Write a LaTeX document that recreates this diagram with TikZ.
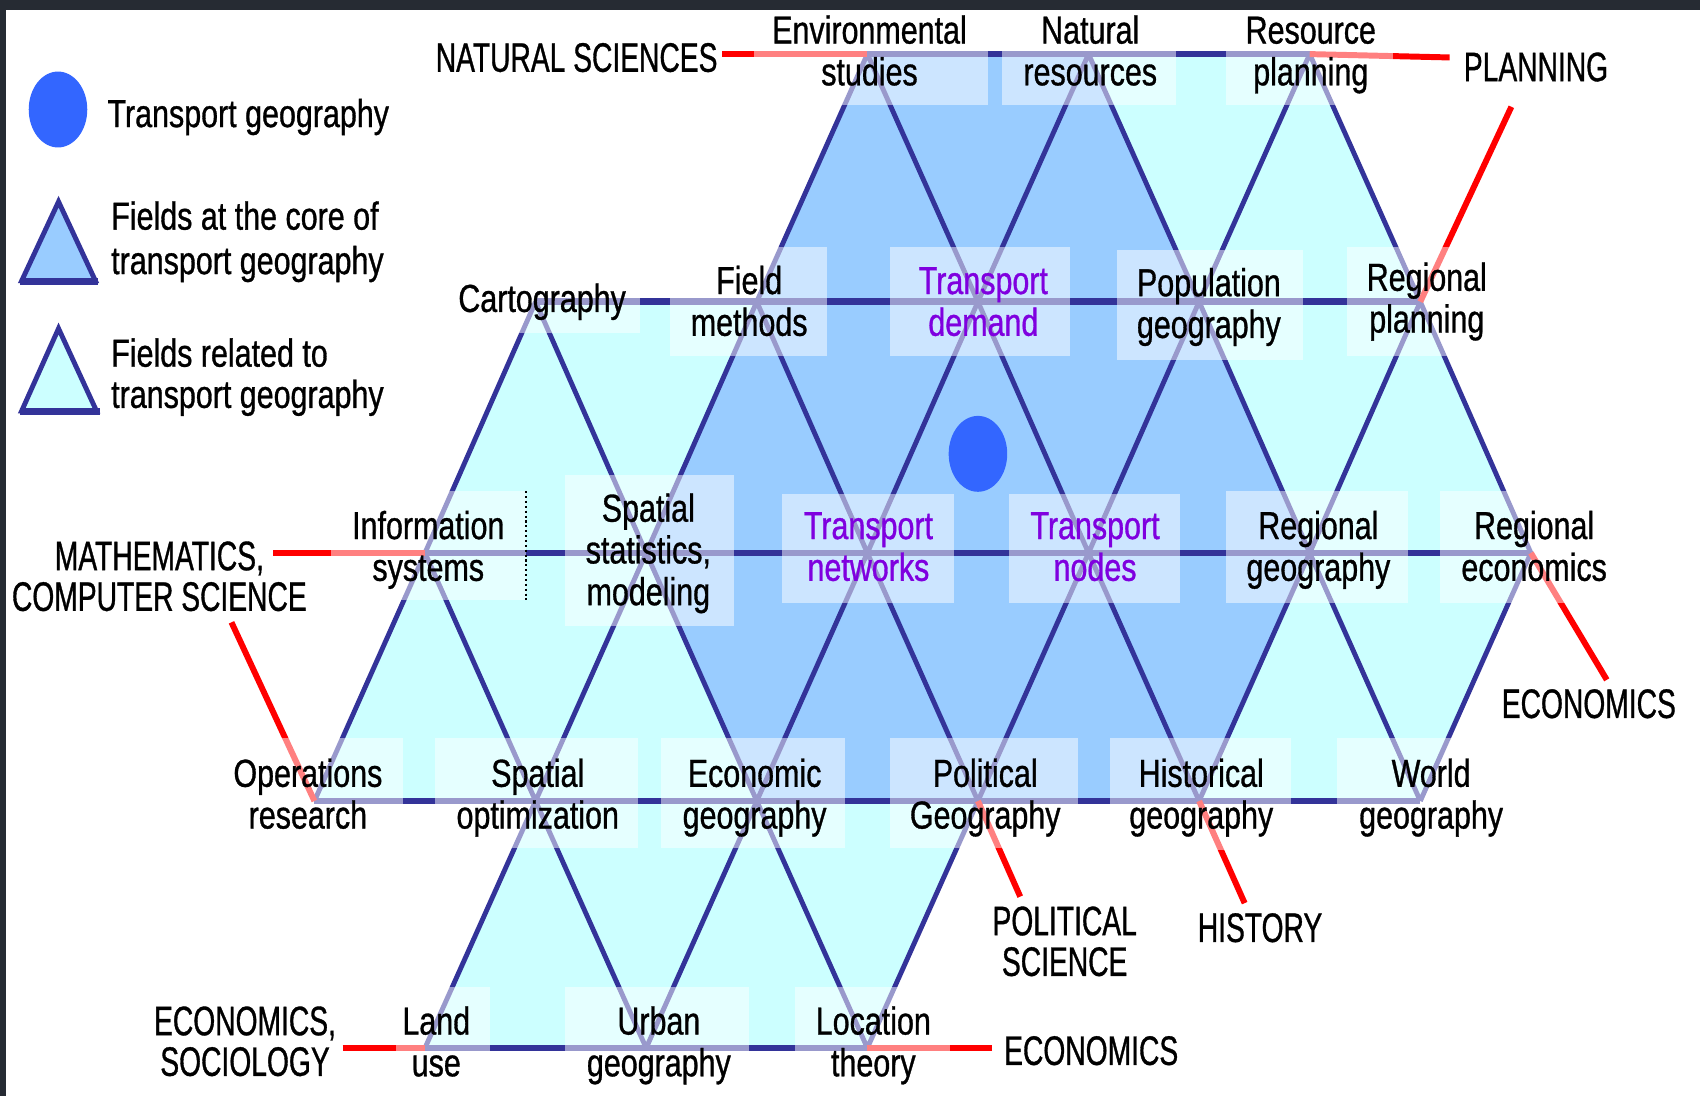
\documentclass[tikz,border=0pt]{standalone}
\usepackage{fontspec}
\newfontfamily\labff{Liberation Sans}[FakeStretch=0.78,FakeBold=0.8]
\newfontfamily\capff{Liberation Sans}[FakeStretch=0.685,FakeBold=0.8]
\usetikzlibrary{shapes.geometric}
\definecolor{gnavy}{HTML}{333399}
\definecolor{gcore}{HTML}{99CCFF}
\definecolor{gcyan}{HTML}{CCFFFF}
\definecolor{gred}{HTML}{FF0000}
\definecolor{gpurple}{HTML}{7F00DF}
\definecolor{gdot}{HTML}{3366FF}
\definecolor{gframe}{HTML}{262B33}
\newcommand{\mys}{\rule{0pt}{27pt}}
\newcommand{\mysc}{\rule{0pt}{28pt}}
\begin{document}
\begin{tikzpicture}[x=1pt,y=-1pt,
  edge/.style={draw=gnavy,line width=4.5pt},
  hedge/.style={draw=gnavy,line width=6pt},
  redl/.style={draw=gred,line width=5.5pt},
  lbox/.style={fill=white,fill opacity=0.5},
  lab/.style={font=\labff\fontsize{36}{38.5}\selectfont,align=center,inner sep=0pt,anchor=north},
  purp/.style={text=gpurple},
  capl/.style={font=\capff\fontsize{38}{37.5}\selectfont,align=center,inner sep=0pt,anchor=north},
  bluedot/.style={ellipse,fill=gdot,inner sep=0pt,minimum width=54pt,minimum height=70pt}]
\useasboundingbox (0,0) rectangle (1568,1011);
\fill[white] (0,0) rectangle (1568,1011);
\fill[gframe] (0,0) rectangle (1568,9);
\fill[gframe] (0,0) rectangle (5.5,1011);

% grid vertices
\coordinate (a2) at (800,49.9);  \coordinate (a3) at (1004,49.9); \coordinate (a4) at (1208,49.9);
\coordinate (b1) at (494,278.3); \coordinate (b2) at (698,278.3); \coordinate (b3) at (902,278.3);
\coordinate (b4) at (1106,278.3);\coordinate (b5) at (1310,278.3);
\coordinate (c0) at (392,510);   \coordinate (c1) at (596,510);   \coordinate (c2) at (800,510);
\coordinate (c3) at (1004,510);  \coordinate (c4) at (1208,510);  \coordinate (c5) at (1412,510);
\coordinate (d0) at (290,738.8); \coordinate (d1) at (494,738.8); \coordinate (d2) at (698,738.8);
\coordinate (d3) at (902,738.8); \coordinate (d4) at (1106,738.8);\coordinate (d5) at (1310,738.8);
\coordinate (e0) at (392,966.6); \coordinate (e1) at (596,966.6); \coordinate (e2) at (800,966.6);

% fills
\fill[gcyan] (b1) -- (b2) -- (c1) -- (d2) -- (d3) -- (e2) -- (e0) -- (d1) -- (d0) -- (c0) -- cycle;
\fill[gcyan] (a3) -- (a4) -- (b5) -- (c5) -- (d5) -- (d4) -- (c4) -- (b4) -- cycle;
\fill[gcore] (a2) -- (a3) -- (b4) -- (c4) -- (d4) -- (d2) -- (c1) -- (b2) -- cycle;

% triangle edges
\draw[edge] (a2)--(b2) (a2)--(b3) (a3)--(b3) (a3)--(b4) (a4)--(b4) (a4)--(b5);
\draw[edge] (b1)--(c0) (b1)--(c1) (b2)--(c1) (b2)--(c2) (b3)--(c2) (b3)--(c3)
            (b4)--(c3) (b4)--(c4) (b5)--(c4) (b5)--(c5);
\draw[edge] (c0)--(d0) (c0)--(d1) (c1)--(d1) (c1)--(d2) (c2)--(d2) (c2)--(d3)
            (c3)--(d3) (c3)--(d4) (c4)--(d4) (c4)--(d5) (c5)--(d5);
\draw[edge] (d1)--(e0) (d1)--(e1) (d2)--(e1) (d2)--(e2) (d3)--(e2);
\draw[hedge] (a2)--(a4) (b1)--(b5) (c0)--(c5) (d0)--(d5) (e0)--(e2);

% red connector ends
\coordinate (nsE) at (666,49.9);
\coordinate (plW) at (1337,53);
\coordinate (plS) at (1394,98.5);
\coordinate (maE) at (252,510);
\coordinate (csS) at (213.5,574);
\coordinate (ecN) at (1482,627);
\coordinate (psN) at (941,827);
\coordinate (hiN) at (1148,833);
\coordinate (esE) at (316,966.6);
\coordinate (ebW) at (915,966.6);
\draw[redl] (nsE) -- (a2);
\draw[redl] (plW) -- (a4);
\draw[redl] (plS) -- (b5);
\draw[redl] (maE) -- (c0);
\draw[redl] (csS) -- (d0);
\draw[redl] (ecN) -- (c5);
\draw[redl] (psN) -- (d3);
\draw[redl] (hiN) -- (d4);
\draw[redl] (esE) -- (e0);
\draw[redl] (ebW) -- (e2);

% label boxes
\fill[lbox] (695,10) rectangle (911,97);
\fill[lbox] (924,10) rectangle (1085,97);
\fill[lbox] (1131,10) rectangle (1285,97);
\fill[lbox] (420,250) rectangle (590,307);
\fill[lbox] (618,228) rectangle (763,328);
\fill[lbox] (821,228) rectangle (987,328);
\fill[lbox] (1030,231) rectangle (1202,332);
\fill[lbox] (1242,228) rectangle (1390,328);
\fill[lbox] (305,453) rectangle (485,553);
\fill[lbox] (521,438) rectangle (677,577);
\fill[lbox] (721,456) rectangle (880,556);
\fill[lbox] (931,456) rectangle (1088,556);
\fill[lbox] (1131,453) rectangle (1299,556);
\fill[lbox] (1328,453) rectangle (1500,556);
\fill[lbox] (205,681) rectangle (372,782);
\fill[lbox] (401,681) rectangle (588,782);
\fill[lbox] (610,681) rectangle (779,782);
\fill[lbox] (821,681) rectangle (994,782);
\fill[lbox] (1024,681) rectangle (1191,784);
\fill[lbox] (1233,681) rectangle (1400,782);
\fill[lbox] (365,910) rectangle (452,1011);
\fill[lbox] (521,910) rectangle (691,1011);
\fill[lbox] (733,910) rectangle (876,1011);
\draw[black,line width=1.5pt,dash pattern=on 2pt off 2.5pt] (485,453) -- (485,553);

% field labels
\node[lab] (env) at (802,13) {\mys Environmental\\studies};
\node[lab] (nat) at (1005.6,13) {\mys Natural\\resources};
\node[lab] (res) at (1209,13) {\mys Resource\\planning};
\node[lab] (carto) at (500,260.5) {\mys Cartography};
\node[lab] (field) at (691,244) {\mys Field\\methods};
\node[lab,purp] (tdem) at (907,244) {\mys Transport\\demand};
\node[lab] (popg) at (1115,246) {\mys Population\\geography};
\node[lab] (rplan) at (1316,241) {\mys Regional\\planning};
\node[lab] (info) at (395,470) {\mys Information\\systems};
\node[lab] (sstat) at (598,454) {\mys Spatial\\statistics,\\modeling};
\node[lab,purp] (tnet) at (801,470) {\mys Transport\\networks};
\node[lab,purp] (tnod) at (1010,470) {\mys Transport\\nodes};
\node[lab] (rgeo) at (1216,470) {\mys Regional\\geography};
\node[lab] (recon) at (1415,470) {\mys Regional\\economics};
\node[lab] (ops) at (284,698.5) {\mys Operations\\research};
\node[lab] (sopt) at (496,698.5) {\mys Spatial\\optimization};
\node[lab] (egeo) at (696,698.5) {\mys Economic\\geography};
\node[lab] (pgeo) at (908.7,698.5) {\mys Political\\Geography};
\node[lab] (hgeo) at (1108,698.5) {\mys Historical\\geography};
\node[lab] (wgeo) at (1320,698.5) {\mys World\\geography};
\node[lab] (land) at (402.4,927) {\mys Land\\use};
\node[lab] (urban) at (607.7,927) {\mys Urban\\geography};
\node[lab] (loc) at (805.5,927) {\mys Location\\theory};

% discipline labels
\node[capl,anchor=north east] (natsci) at (662,38) {\mysc NATURAL SCIENCES};
\node[capl,anchor=north west] (plan) at (1350,46.7) {\mysc PLANNING};
\node[capl] (math) at (147,497.7) {\mysc MATHEMATICS,\\COMPUTER SCIENCE};
\node[capl,anchor=north west] (econA) at (1385,634) {\mysc ECONOMICS};
\node[capl] (polsci) at (982,834.4) {\mysc POLITICAL\\SCIENCE};
\node[capl,anchor=north west] (hist) at (1104.6,840.6) {\mysc HISTORY};
\node[capl] (ecsoc) at (226,926.6) {\mysc ECONOMICS,\\SOCIOLOGY};
\node[capl,anchor=north west] (econB) at (926,954) {\mysc ECONOMICS};

% central dot
\node[bluedot] (tgdot) at (902,418.6) {};

% legend
\node[bluedot] (ldot) at (53.5,101) {};
\node[lab,align=left,anchor=north west] (lg1) at (99,90) {\mys Transport geography};
\filldraw[fill=gcore,draw=gnavy,line width=4.5pt] (54,186) -- (88,259) -- (20,259) -- cycle;
\draw[gnavy,line width=6.5pt] (18,259.5) -- (90,259.5);
\filldraw[fill=gcyan,draw=gnavy,line width=4.5pt] (54,303) -- (89,379) -- (20,379) -- cycle;
\draw[gnavy,line width=6.5pt] (18,379.5) -- (92,379.5);
\node[lab,align=left,anchor=north west,font=\labff\fontsize{36}{41}\selectfont] (lg2) at (102.4,184.6) {\mys Fields at the core of\\transport geography};
\node[lab,align=left,anchor=north west,font=\labff\fontsize{36}{38}\selectfont] (lg3) at (102.4,311) {\mys Fields related to\\transport geography};
\end{tikzpicture}
\end{document}
